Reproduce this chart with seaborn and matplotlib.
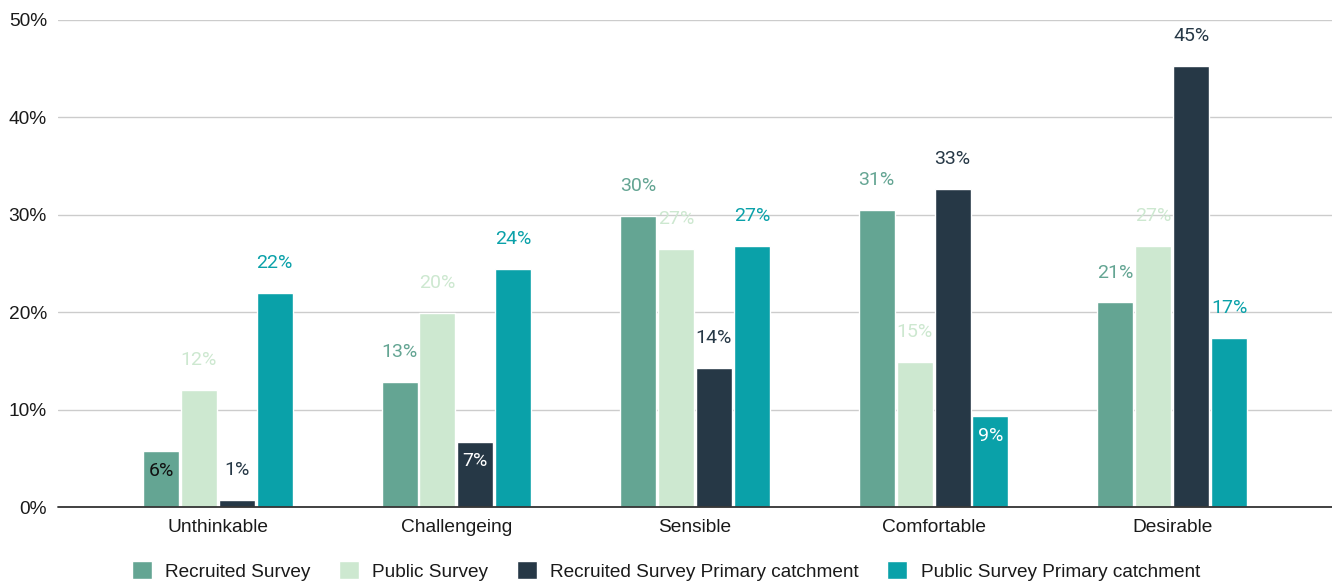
import pandas as pd
import matplotlib.pyplot as plt
import seaborn as sns

# data (percent)
categories = ["Unthinkable", "Challengeing", "Sensible", "Comfortable", "Desirable"]
series = ["Recruited Survey", "Public Survey",
          "Recruited Survey Primary catchment", "Public Survey Primary catchment"]
recruited = [5.7, 12.8, 29.9, 30.5, 21.0]
public = [12.0, 19.9, 26.5, 14.9, 26.8]
recruited_primary = [0.7, 6.7, 14.3, 32.7, 45.3]
public_primary = [22.0, 24.4, 26.8, 9.3, 17.4]
y_ticks = [0, 10, 20, 30, 40, 50]

colors = ["#64a593", "#cde8d0", "#263846", "#0aa1a9"]
# labels that sit inside the bar instead of above it: (category, series) -> text colour
inside = {(0, 0): "#111111", (1, 2): "white", (3, 3): "white"}

values = [recruited, public, recruited_primary, public_primary]
rows = []
for s, vals in zip(series, values):
    for c, v in zip(categories, vals):
        rows.append({"category": c, "series": s, "value": v})
df = pd.DataFrame(rows)

sns.set_style("white")
plt.rcParams["font.family"] = ["Liberation Sans", "DejaVu Sans"]

fig = plt.figure(figsize=(13.32, 5.82), dpi=100)
ax = fig.add_axes([58 / 1332, 75 / 582, 1 - 58 / 1332, 487 / 582])

sns.barplot(data=df, x="category", y="value", hue="series", order=categories,
            hue_order=series, palette=colors, width=0.636, gap=0.05,
            saturation=1, errorbar=None, ax=ax, legend=True)

ax.set_xlim(-0.67, 4.67)
ax.set_ylim(0, 50)
ax.set_yticks(y_ticks)
ax.set_yticklabels([f"{t}%" for t in y_ticks])
ax.set_xlabel("")
ax.set_ylabel("")
for sp in ax.spines.values():
    sp.set_visible(False)
ax.grid(axis="y", color="#cccccc", lw=1)
ax.set_axisbelow(True)
ax.axhline(0, color="#333333", lw=1.3, zorder=3, clip_on=False)
ax.tick_params(axis="both", length=0, labelsize=13.8, colors="#1a1a1a")
ax.tick_params(axis="y", pad=8)
ax.tick_params(axis="x", pad=8.5)

# data labels
for si, cont in enumerate(ax.containers):
    for ci, bar in enumerate(cont):
        v = values[si][ci]
        x = bar.get_x() + bar.get_width() / 2
        if (ci, si) in inside:
            dy, col = -14, inside[(ci, si)]
        else:
            dy, col = 21.5, colors[si]
        ax.annotate(f"{int(v + 0.5)}%", (x, v), xytext=(0, dy), textcoords="offset points",
                    ha="center", va="center", fontsize=14, color=col,
                    family=["Roboto", "DejaVu Sans"], annotation_clip=False)

handles, labels = ax.get_legend_handles_labels()
ax.get_legend().remove()
fig.legend(handles, labels, loc="center", bbox_to_anchor=(0.5, 1 - 571 / 582), ncol=4,
           frameon=False, fontsize=13.7, handlelength=1.05, handleheight=1.05,
           handletextpad=0.7, columnspacing=1.5, labelcolor="#1a1a1a")

fig.savefig("out.png", dpi=100)
